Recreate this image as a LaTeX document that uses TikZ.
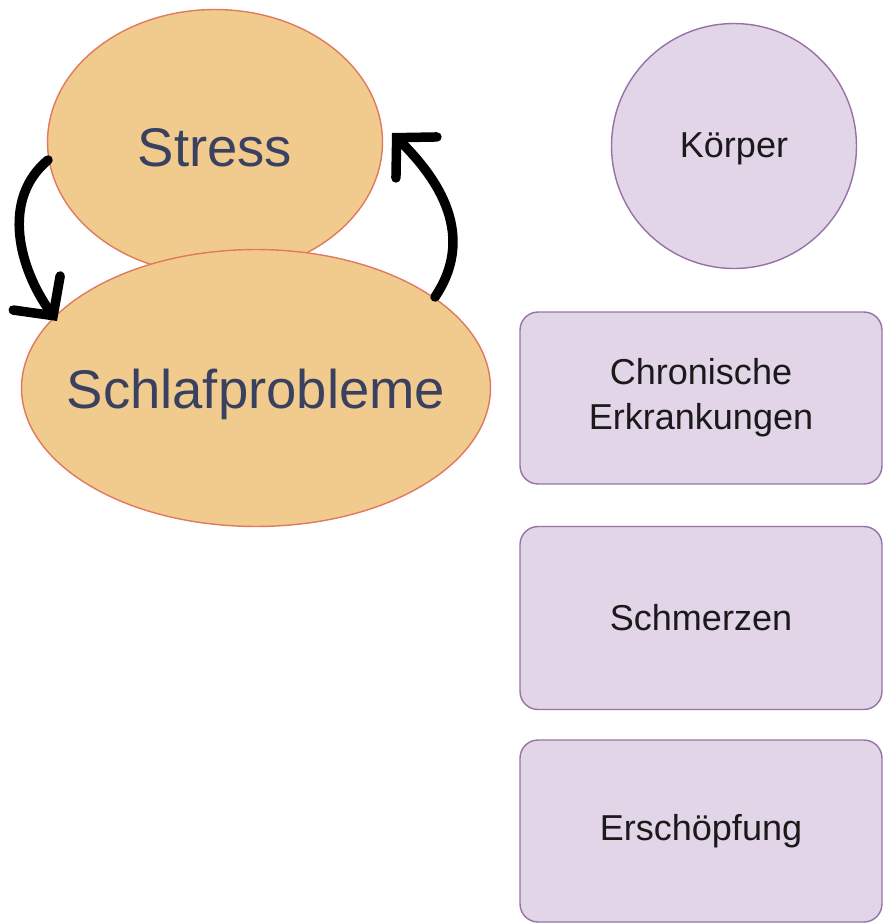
\documentclass[tikz,border=0pt]{standalone}
\usepackage{fontspec}
\setmainfont{Liberation Sans}
\usepackage{xcolor}
\usetikzlibrary{arrows.meta,shapes.geometric}
\definecolor{orangefill}{HTML}{F1CB8E}
\definecolor{orangeline}{HTML}{E07A5F}
\definecolor{purplefill}{HTML}{E1D5E7}
\definecolor{purpleline}{HTML}{9673A6}
\definecolor{causetext}{HTML}{3A4060}
\definecolor{factortext}{HTML}{1A1A1A}

\begin{document}
\begin{tikzpicture}[
  x=0.02cm,y=-0.02cm,
  % negative inner xsep so the minimum size, not the text, sets the ellipse
  cause/.style={ellipse,draw=orangeline,fill=orangefill,line width=0.8pt,
    inner xsep=-1cm,inner ysep=0pt,text=causetext,
    font=\fontsize{31}{37}\selectfont},
  bodycircle/.style={circle,draw=purpleline,fill=purplefill,line width=0.8pt,
    inner sep=0pt,minimum size=4.9cm,text=factortext,
    font=\fontsize{20.5}{25.5}\selectfont},
  factor/.style={rectangle,rounded corners=0.36cm,draw=purpleline,
    fill=purplefill,line width=0.8pt,minimum width=7.24cm,inner sep=0pt,
    align=center,text=factortext,font=\fontsize{20.5}{25.5}\selectfont},
  loop/.style={line width=5.4pt,line cap=round,
    -{Straight Barb[length=0.56cm,width=1.16cm,line cap=round]}}
]
  \useasboundingbox (0,0) rectangle (884,924);

  \node[cause,minimum width=6.7cm,minimum height=5.3cm,text height=28pt] (stress) at (215,142) {Stress};
  \node[cause,minimum width=9.38cm,minimum height=5.54cm,text height=30pt] (sleep) at (256,388) {Schlafprobleme};

  \node[bodycircle,text height=17pt] (body) at (734,146) {Körper};
  \node[factor,minimum height=3.44cm] (chronic) at (701,398) {Chronische\\Erkrankungen};
  \node[factor,minimum height=3.66cm] (pain) at (701,618) {Schmerzen};
  \node[factor,minimum height=3.64cm] (fatigue) at (701,831) {Erschöpfung};

  % feedback loop between the two ellipses
  \coordinate (stressout) at (48,160);
  \coordinate (sleepin) at (57,321);
  \coordinate (sleepout) at (435,297);
  \coordinate (stressin) at (392,133);
  \draw[loop] (stressout) .. controls (0,200) and (20,270) .. (sleepin);
  \draw[loop] (sleepout) .. controls (480,230) and (430,171) .. (stressin);
\end{tikzpicture}
\end{document}
